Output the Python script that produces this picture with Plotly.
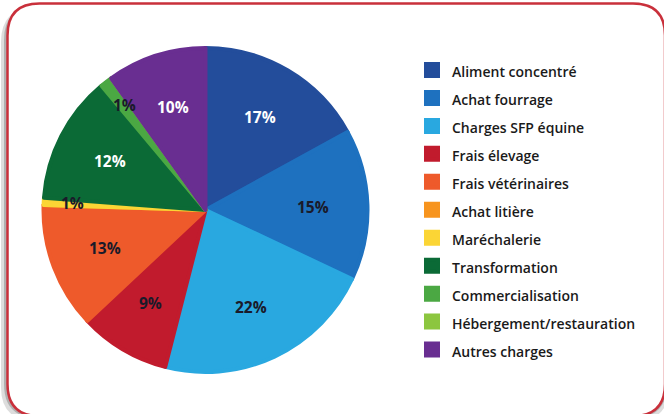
import math
import plotly.graph_objects as go

# ---- data ----
categories = ["Aliment concentré", "Achat fourrage", "Charges SFP équine", "Frais élevage",
              "Frais vétérinaires", "Achat litière", "Maréchalerie", "Transformation",
              "Commercialisation", "Hébergement/restauration", "Autres charges"]
values = [17, 15, 22, 9, 12.5, 0, 0.7, 12.7, 1.2, 0, 9.9]
shown_pct = ["17%", "15%", "22%", "9%", "13%", "", "1%", "12%", "1%", "", "10%"]
colors = ["#234d9b", "#1e71bf", "#29a8e0", "#c11b2d", "#ee5a2b", "#f7941e",
          "#fbd535", "#0b6a36", "#4ba843", "#8cc63f", "#692e91"]
text_colors = ["white", "#1a1a2a", "#1a1a2a", "#1a1a2a", "#1a1a2a", "#1a1a2a",
               "#1a1a2a", "white", "#1a1a2a", "#1a1a2a", "white"]

W, H = 664, 414
# pie domain (paper)
cx_px, cy_px, R = 205.5, 210.0, 162.0
dom_x = [(cx_px - R) / W, (cx_px + R) / W]
dom_y = [1 - (cy_px + R) / H, 1 - (cy_px - R) / H]

small = [v < 2 for v in values]

fig = go.Figure(go.Pie(
    labels=[f'<span style="font-size:14px">{c}</span>' for c in categories],
    values=values,
    textinfo="none",
    sort=False,
    direction="clockwise",
    rotation=0,
    marker=dict(colors=colors, line=dict(color=colors, width=4)),
    domain=dict(x=dom_x, y=dom_y),
    hovertext=shown_pct,
    hoverinfo="label+text",
))

# slice labels placed at each slice's mid angle (computed from the data)
total = sum(values)
cum = 0.0
annotations = []
for v, t, s, tc in zip(values, shown_pct, small, text_colors):
    mid = (cum + v / 2) / total * 2 * math.pi
    cum += v
    if not t:
        continue
    rr = (0.82 if s else 0.665) * R
    x = cx_px + rr * math.sin(mid)
    y = cy_px - rr * math.cos(mid)
    annotations.append(dict(x=x / W, y=1 - y / H, xref="paper", yref="paper",
                            xanchor="center", yanchor="middle",
                            text=t, showarrow=False,
                            font=dict(family="Open Sans", size=15.5, color=tc, weight="bold")))


def rrect(x0, y0, x1, y1, r):
    def P(x, y):
        return f"{x / W:.5f},{1 - y / H:.5f}"
    return (f"M {P(x0 + r, y0)} L {P(x1 - r, y0)} Q {P(x1, y0)} {P(x1, y0 + r)} "
            f"L {P(x1, y1 - r)} Q {P(x1, y1)} {P(x1 - r, y1)} L {P(x0 + r, y1)} "
            f"Q {P(x0, y1)} {P(x0, y1 - r)} L {P(x0, y0 + r)} Q {P(x0, y0)} {P(x0 + r, y0)} Z")


shapes = [
    dict(type="path", xref="paper", yref="paper", path=rrect(1, 8, 669, 421, 34),
         fillcolor="rgba(120,120,120,0.25)", line=dict(width=0), layer="below"),
    dict(type="path", xref="paper", yref="paper", path=rrect(4, 6, 667, 418, 34),
         fillcolor="rgba(110,110,110,0.4)", line=dict(width=0), layer="below"),
    dict(type="path", xref="paper", yref="paper", path=rrect(7.5, 3.5, 665, 416, 32),
         fillcolor="white", line=dict(color="#c9303b", width=2.5), layer="below"),
]

fig.update_layout(
    width=W, height=H,
    margin=dict(l=0, r=0, t=0, b=0),
    paper_bgcolor="white",
    plot_bgcolor="white",
    shapes=shapes,
    annotations=annotations,
    showlegend=True,
    legend=dict(
        x=412 / W, y=1 - 51 / H, xanchor="left", yanchor="top",
        font=dict(family="Open Sans", size=19.2, color="#1a1a1a", weight=600),
        bgcolor="rgba(0,0,0,0)", traceorder="normal",
    ),
    font=dict(family="Open Sans"),
)

fig.write_html("out.html", config={"displayModeBar": False},
               post_script="document.body.style.margin='0';")
